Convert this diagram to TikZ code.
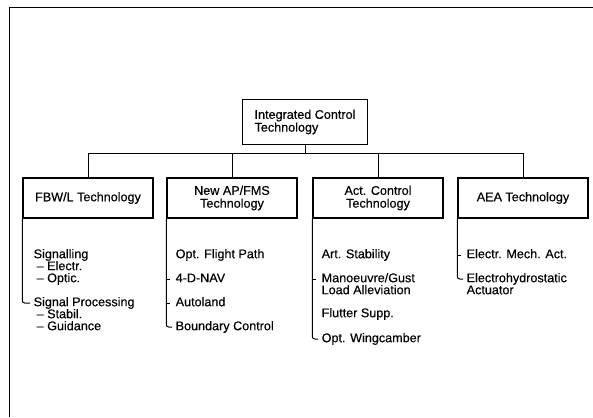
\documentclass[tikz,border=0pt]{standalone}
\usepackage{fontspec}
\setmainfont{Liberation Sans}[FakeBold=0.35]
\usetikzlibrary{positioning}

\begin{document}
\begin{tikzpicture}[x=1pt,y=-1pt,font=\fontsize{12.6}{12.8}\selectfont,box/.style={rectangle,draw,line width=1.5pt,minimum width=130pt,minimum height=40pt,align=center,inner sep=2pt},item/.style={anchor=west,inner xsep=3.5pt,inner ysep=0pt,text height=9pt,text depth=2.6pt},link/.style={line width=1pt},hook/.style={link,rounded corners=2.5pt}]
\useasboundingbox (0,0) rectangle (593,417);
\draw[line width=0.8pt] (593,7) -- (9,7) -- (9,417);
% top and branch boxes
\node[box,minimum width=125pt,minimum height=45pt,align=left] (ict) at (305,122) {Integrated Control\\Technology};
\node[box] (fbw) at (88,198) {FBW/L Technology};
\node[box] (ap) at (232,198) {New AP/FMS\\Technology};
\node[box] (act) at (378,198) {Act. Control\\Technology};
\node[box] (aea) at (523,198) {AEA Technology};
\coordinate (bar) at (0,153);
\draw[link] (ict.south) -- (ict.south |- bar);
\draw[link] (fbw.north |- bar) -- (aea.north |- bar);
\foreach \n in {fbw,ap,act,aea} \draw[link] (\n.north |- bar) -- (\n.north);
% FBW/L items
\node[item] (sig) at (30,255) {Signalling};
\node[item] (elec) at (33,267) {\textendash\ Electr.};
\node[item] (optic) at (33,279) {\textendash\ Optic.};
\node[item] (sigp) at (30,303) {Signal Processing};
\node[item] (stab) at (33,315) {\textendash\ Stabil.};
\node[item] (guid) at (33,327) {\textendash\ Guidance};
\draw[hook] (fbw.south west) |- (sigp.west);
% AP/FMS items
\node[item] (ofp) at (172,255) {Opt. Flight Path};
\node[item] (nav) at (172,279) {4-D-NAV};
\node[item] (auto) at (172,303) {Autoland};
\node[item] (bc) at (172,327) {Boundary Control};
\draw[hook] (ap.south west) |- (bc.west);
\draw[link] (ap.south west |- nav.west) -- +(4,0);
\draw[link] (ap.south west |- auto.west) -- +(4,0);
% active control items
\node[item] (art) at (318,255) {Art. Stability};
\node[item] (man) at (318,279) {Manoeuvre/Gust};
\node[item] (load) at (318,291) {Load Alleviation};
\node[item] (flut) at (318,314) {Flutter Supp.};
\node[item] (wing) at (318,339) {Opt. Wingcamber};
\draw[hook] (act.south west) |- (wing.west);
\draw[link] (act.south west |- man.west) -- +(4,0);
% AEA items
\node[item] (emech) at (463,255) {Electr. Mech. Act.};
\node[item] (ehyd) at (463,279) {Electrohydrostatic};
\node[item] (actu) at (463,291) {Actuator};
\draw[hook] (aea.south west) |- (ehyd.west);
\draw[link] (aea.south west |- emech.west) -- +(4,0);
\end{tikzpicture}
\end{document}
